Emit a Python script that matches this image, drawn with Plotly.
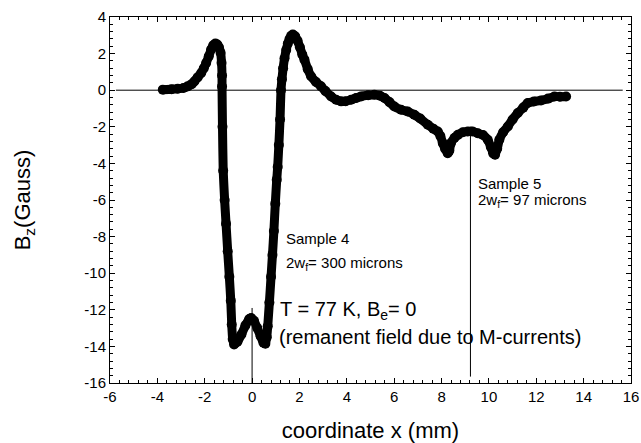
import plotly.graph_objects as go

x_mm = [-3.77, -3.4, -3.14, -2.9, -2.72, -2.55, -2.44, -2.3, -2.15, -2.04, -1.94, -1.83, -1.73, -1.64, -1.55,
        -1.47, -1.40, -1.33, -1.29, -1.27, -1.27, -1.25, -1.22, -1.16, -1.10, -1.03, -0.96, -0.90, -0.86,
        -0.82, -0.76, -0.62, -0.45, -0.28, -0.12, -0.04, 0.08, 0.22, 0.36, 0.48, 0.56, 0.62, 0.66, 0.73,
        0.80, 0.86, 0.92, 0.98, 1.04, 1.08, 1.13, 1.18, 1.22, 1.26, 1.31, 1.37, 1.44, 1.51, 1.58, 1.65,
        1.72, 1.82, 1.92, 2.02, 2.12, 2.21, 2.35, 2.49, 2.7, 2.91, 3.1, 3.34, 3.55, 3.76, 3.95, 4.18,
        4.4, 4.6, 4.9, 5.16, 5.4, 5.59, 5.8, 6.01, 6.29, 6.57, 6.85, 7.1, 7.42, 7.65, 7.84, 7.95, 8.05,
        8.15, 8.26, 8.33, 8.40, 8.55, 8.69, 8.9, 9.11, 9.3, 9.53, 9.75, 9.95, 10.08, 10.18, 10.26, 10.35,
        10.44, 10.6, 10.8, 11.0, 11.22, 11.45, 11.64, 11.9, 12.2, 12.5, 12.77, 13.0, 13.26]
bz_gauss = [0.03, 0.05, 0.08, 0.12, 0.21, 0.33, 0.48, 0.70, 0.94, 1.20, 1.49, 1.85, 2.22, 2.45, 2.55,
            2.50, 2.35, 2.05, 1.50, 0.80, 0.20, -2.0, -4.4, -6.0, -7.3, -8.8, -10.2, -11.5, -12.8,
            -13.6, -13.9, -13.75, -13.35, -12.85, -12.5, -12.45, -12.6, -13.0, -13.45, -13.8, -13.85, -13.5, -12.9, -11.6,
            -10.2, -9.0, -7.7, -6.2, -4.9, -4.2, -3.0, -1.6, 0.0, 0.6, 1.2, 1.75, 2.2, 2.55, 2.8, 2.97,
            3.04, 2.95, 2.7, 2.35, 1.95, 1.67, 1.15, 0.76, 0.45, 0.21, -0.05, -0.34, -0.52, -0.61, -0.60, -0.52,
            -0.42, -0.34, -0.28, -0.25, -0.30, -0.43, -0.65, -0.89, -1.07, -1.16, -1.34, -1.55, -1.89, -2.10, -2.26, -2.5, -2.89,
            -3.2, -3.44, -3.3, -2.89, -2.6, -2.44, -2.3, -2.26, -2.25, -2.35, -2.45, -2.71, -3.1, -3.45, -3.53, -3.2,
            -2.71, -2.3, -1.98, -1.6, -1.25, -0.95, -0.70, -0.62, -0.56, -0.46, -0.34, -0.36, -0.34]

x_ticks = [-6, -4, -2, 0, 2, 4, 6, 8, 10, 12, 14, 16]
y_ticks = [-16, -14, -12, -10, -8, -6, -4, -2, 0, 2, 4]

FONT = "Liberation Sans, Arial, sans-serif"

fig = go.Figure()
fig.add_trace(go.Scatter(
    x=x_mm, y=bz_gauss, mode="lines+markers",
    line=dict(color="black", width=9, shape="spline", smoothing=0.4),
    marker=dict(color="black", size=10),
    showlegend=False, hoverinfo="skip",
))

# reference lines
fig.add_shape(type="line", x0=-5.75, x1=15.65, y0=0, y1=0, line=dict(color="black", width=1))
fig.add_shape(type="line", x0=0, x1=0, y0=-11.9, y1=-16, line=dict(color="black", width=1))
fig.add_shape(type="line", x0=9.22, x1=9.22, y0=-2.0, y1=-15.65, line=dict(color="black", width=1))

def note(x, y, text, size):
    fig.add_annotation(x=x, y=y, text=text, showarrow=False, xanchor="left", yanchor="middle",
                       font=dict(family=FONT, size=size, color="black"))

note(1.36, -8.08, "Sample 4", 15)
note(1.36, -9.45, "2w<sub>f</sub>= 300 microns", 15)
note(1.08, -12.05, "T = 77 K, B<sub>e</sub>= 0", 20)
note(1.04, -13.5, "(remanent field due to M-currents)", 20)
note(9.46, -5.12, "Sample 5", 15)
note(9.46, -6.05, "2w<sub>f</sub>= 97 microns", 15)

axis_common = dict(
    showgrid=False, zeroline=False, showline=True, linecolor="black", linewidth=1,
    mirror="ticks", ticks="inside", ticklen=5, tickcolor="black", tickwidth=1,
    tickfont=dict(family=FONT, size=15, color="black"), automargin=False,
    ticklabeloverflow="allow",
    minor=dict(ticks="inside", ticklen=3, tickcolor="black", dtick=0.4, showgrid=False),
)

fig.update_xaxes(range=[-6, 16], tickvals=x_ticks, ticktext=[str(v) for v in x_ticks],
                 title=dict(text="coordinate x (mm)", font=dict(family=FONT, size=22, color="black"), standoff=19),
                 **axis_common)
fig.update_yaxes(range=[-16, 4], tickvals=y_ticks, ticktext=[str(v) for v in y_ticks],
                 title=dict(text="B<sub>z</sub>(Gauss)", font=dict(family=FONT, size=22, color="black"), standoff=47),
                 **axis_common)

fig.update_layout(
    width=641, height=443,
    margin=dict(l=110, r=10, t=17, b=60, autoexpand=False),
    paper_bgcolor="white", plot_bgcolor="white",
    font=dict(family=FONT, color="black"),
)

fig.write_html(
    "out.html",
    config={"displayModeBar": False},
    post_script="document.body.style.margin='0';document.documentElement.style.overflow='hidden';",
)
